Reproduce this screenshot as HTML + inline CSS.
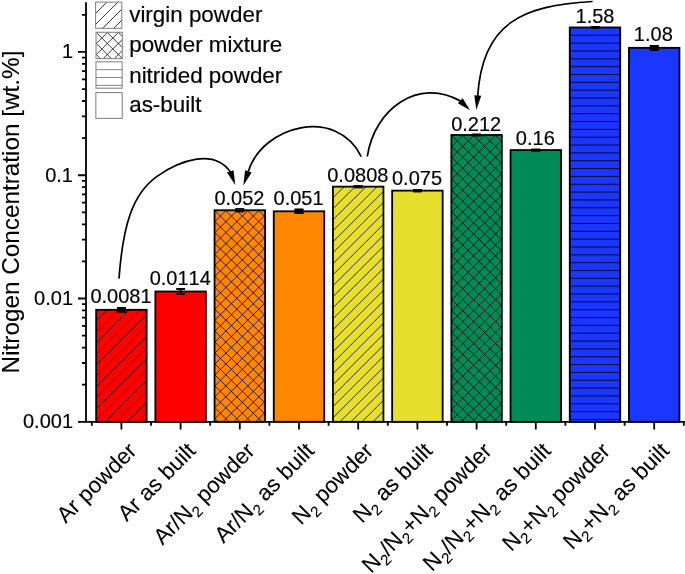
<!DOCTYPE html>
<html><head><meta charset="utf-8"><style>
html,body{margin:0;padding:0;background:#fff;}
svg{display:block;}
text{font-family:"Liberation Sans",sans-serif;font-kerning:none;}
</style></head><body>
<svg width="685" height="574" viewBox="0 0 685 574" style="will-change:transform">
<defs>
<clipPath id="pdiag0"><rect x="96.15" y="309.80" width="50.50" height="112.00"/></clipPath><clipPath id="pcross2"><rect x="214.55" y="210.25" width="50.50" height="211.55"/></clipPath><clipPath id="pdiag4"><rect x="332.95" y="186.65" width="50.50" height="235.15"/></clipPath><clipPath id="pcross6"><rect x="451.35" y="135.00" width="50.50" height="286.80"/></clipPath><clipPath id="phoriz8"><rect x="569.75" y="27.46" width="50.50" height="394.34"/></clipPath><clipPath id="Ldiag"><rect x="95.60" y="2.10" width="26.20" height="26.25"/></clipPath><clipPath id="Lcross"><rect x="96.00" y="32.30" width="26.30" height="26.30"/></clipPath><clipPath id="Lhoriz"><rect x="95.95" y="61.80" width="26.20" height="26.40"/></clipPath>

</defs>
<rect width="685" height="574" fill="#fff"/>
<rect x="96.15" y="309.80" width="50.50" height="112.00" fill="#FF0000"/>
<path clip-path="url(#pdiag0)" d="M-38.70 422.80L75.30 308.80M-27.70 422.80L86.30 308.80M-16.70 422.80L97.30 308.80M-5.70 422.80L108.30 308.80M5.30 422.80L119.30 308.80M16.30 422.80L130.30 308.80M27.30 422.80L141.30 308.80M38.30 422.80L152.30 308.80M49.30 422.80L163.30 308.80M60.30 422.80L174.30 308.80M71.30 422.80L185.30 308.80M82.30 422.80L196.30 308.80M93.30 422.80L207.30 308.80M104.30 422.80L218.30 308.80M115.30 422.80L229.30 308.80M126.30 422.80L240.30 308.80M137.30 422.80L251.30 308.80M148.30 422.80L262.30 308.80" stroke="#000" stroke-width="0.8" fill="none"/>
<rect x="96.15" y="309.80" width="50.50" height="112.00" fill="none" stroke="#000" stroke-width="1.8"/>
<rect x="117.00" y="307.10" width="8.8" height="5.40" fill="#000"/>
<path d="M117.00 308.10H125.80M117.00 311.50H125.80M121.40 308.10V311.50" stroke="#000" stroke-width="2" fill="none"/>
<text transform="translate(121.00 302.80) scale(1 1.04)" font-size="20" text-anchor="middle" fill="#000" stroke="#000" stroke-width="0.176" xml:space="preserve">0.0081</text>
<rect x="155.35" y="291.50" width="50.50" height="130.30" fill="#FF0000"/>
<rect x="155.35" y="291.50" width="50.50" height="130.30" fill="none" stroke="#000" stroke-width="1.8"/>
<path d="M176.20 289.00H185.00M176.20 294.00H185.00M180.60 289.00V294.00" stroke="#000" stroke-width="2" fill="none"/>
<text transform="translate(180.20 284.70) scale(1 1.04)" font-size="20" text-anchor="middle" fill="#000" stroke="#000" stroke-width="0.176" xml:space="preserve">0.0114</text>
<rect x="214.55" y="210.25" width="50.50" height="211.55" fill="#FF8600"/>
<path clip-path="url(#pcross2)" d="M-19.10 422.80L194.45 209.25M-8.15 422.80L205.40 209.25M2.80 422.80L216.35 209.25M13.75 422.80L227.30 209.25M24.70 422.80L238.25 209.25M35.65 422.80L249.20 209.25M46.60 422.80L260.15 209.25M57.55 422.80L271.10 209.25M68.50 422.80L282.05 209.25M79.45 422.80L293.00 209.25M90.40 422.80L303.95 209.25M101.35 422.80L314.90 209.25M112.30 422.80L325.85 209.25M123.25 422.80L336.80 209.25M134.20 422.80L347.75 209.25M145.15 422.80L358.70 209.25M156.10 422.80L369.65 209.25M167.05 422.80L380.60 209.25M178.00 422.80L391.55 209.25M188.95 422.80L402.50 209.25M199.90 422.80L413.45 209.25M210.85 422.80L424.40 209.25M221.80 422.80L435.35 209.25M232.75 422.80L446.30 209.25M243.70 422.80L457.25 209.25M254.65 422.80L468.20 209.25M265.60 422.80L479.15 209.25M213.55 143.55L266.05 196.05M213.55 154.50L266.05 207.00M213.55 165.45L266.05 217.95M213.55 176.40L266.05 228.90M213.55 187.35L266.05 239.85M213.55 198.30L266.05 250.80M213.55 209.25L266.05 261.75M213.55 220.20L266.05 272.70M213.55 231.15L266.05 283.65M213.55 242.10L266.05 294.60M213.55 253.05L266.05 305.55M213.55 264.00L266.05 316.50M213.55 274.95L266.05 327.45M213.55 285.90L266.05 338.40M213.55 296.85L266.05 349.35M213.55 307.80L266.05 360.30M213.55 318.75L266.05 371.25M213.55 329.70L266.05 382.20M213.55 340.65L266.05 393.15M213.55 351.60L266.05 404.10M213.55 362.55L266.05 415.05M213.55 373.50L266.05 426.00M213.55 384.45L266.05 436.95M213.55 395.40L266.05 447.90M213.55 406.35L266.05 458.85M213.55 417.30L266.05 469.80M213.55 428.25L266.05 480.75" stroke="#000" stroke-width="0.8" fill="none"/>
<rect x="214.55" y="210.25" width="50.50" height="211.55" fill="none" stroke="#000" stroke-width="1.8"/>
<rect x="235.40" y="208.30" width="8.8" height="3.90" fill="#000"/>
<path d="M235.40 209.30H244.20M235.40 211.20H244.20M239.80 209.30V211.20" stroke="#000" stroke-width="2" fill="none"/>
<text transform="translate(239.40 204.70) scale(1 1.04)" font-size="20" text-anchor="middle" fill="#000" stroke="#000" stroke-width="0.176" xml:space="preserve">0.052</text>
<rect x="273.75" y="211.29" width="50.50" height="210.51" fill="#FF8600"/>
<rect x="273.75" y="211.29" width="50.50" height="210.51" fill="none" stroke="#000" stroke-width="1.8"/>
<rect x="294.60" y="208.64" width="8.8" height="5.30" fill="#000"/>
<path d="M294.60 209.64H303.40M294.60 212.94H303.40M299.00 209.64V212.94" stroke="#000" stroke-width="2" fill="none"/>
<text transform="translate(298.60 204.70) scale(1 1.04)" font-size="20" text-anchor="middle" fill="#000" stroke="#000" stroke-width="0.176" xml:space="preserve">0.051</text>
<rect x="332.95" y="186.65" width="50.50" height="235.15" fill="#E7DF2D"/>
<path clip-path="url(#pdiag4)" d="M74.95 422.80L312.10 185.65M85.95 422.80L323.10 185.65M96.95 422.80L334.10 185.65M107.95 422.80L345.10 185.65M118.95 422.80L356.10 185.65M129.95 422.80L367.10 185.65M140.95 422.80L378.10 185.65M151.95 422.80L389.10 185.65M162.95 422.80L400.10 185.65M173.95 422.80L411.10 185.65M184.95 422.80L422.10 185.65M195.95 422.80L433.10 185.65M206.95 422.80L444.10 185.65M217.95 422.80L455.10 185.65M228.95 422.80L466.10 185.65M239.95 422.80L477.10 185.65M250.95 422.80L488.10 185.65M261.95 422.80L499.10 185.65M272.95 422.80L510.10 185.65M283.95 422.80L521.10 185.65M294.95 422.80L532.10 185.65M305.95 422.80L543.10 185.65M316.95 422.80L554.10 185.65M327.95 422.80L565.10 185.65M338.95 422.80L576.10 185.65M349.95 422.80L587.10 185.65M360.95 422.80L598.10 185.65M371.95 422.80L609.10 185.65M382.95 422.80L620.10 185.65" stroke="#000" stroke-width="0.8" fill="none"/>
<rect x="332.95" y="186.65" width="50.50" height="235.15" fill="none" stroke="#000" stroke-width="1.8"/>
<rect x="353.80" y="185.15" width="8.8" height="3.00" fill="#000"/>
<path d="M353.80 186.15H362.60M353.80 187.15H362.60M358.20 186.15V187.15" stroke="#000" stroke-width="2" fill="none"/>
<text transform="translate(357.80 181.80) scale(1 1.04)" font-size="20" text-anchor="middle" fill="#000" stroke="#000" stroke-width="0.176" xml:space="preserve">0.0808</text>
<rect x="392.15" y="190.64" width="50.50" height="231.16" fill="#E7DF2D"/>
<rect x="392.15" y="190.64" width="50.50" height="231.16" fill="none" stroke="#000" stroke-width="1.8"/>
<rect x="413.00" y="189.04" width="8.8" height="3.20" fill="#000"/>
<path d="M413.00 190.04H421.80M413.00 191.24H421.80M417.40 190.04V191.24" stroke="#000" stroke-width="2" fill="none"/>
<text transform="translate(417.00 184.80) scale(1 1.04)" font-size="20" text-anchor="middle" fill="#000" stroke="#000" stroke-width="0.176" xml:space="preserve">0.075</text>
<rect x="451.35" y="135.00" width="50.50" height="286.80" fill="#008A58"/>
<path clip-path="url(#pcross6)" d="M142.45 422.80L431.25 134.00M153.40 422.80L442.20 134.00M164.35 422.80L453.15 134.00M175.30 422.80L464.10 134.00M186.25 422.80L475.05 134.00M197.20 422.80L486.00 134.00M208.15 422.80L496.95 134.00M219.10 422.80L507.90 134.00M230.05 422.80L518.85 134.00M241.00 422.80L529.80 134.00M251.95 422.80L540.75 134.00M262.90 422.80L551.70 134.00M273.85 422.80L562.65 134.00M284.80 422.80L573.60 134.00M295.75 422.80L584.55 134.00M306.70 422.80L595.50 134.00M317.65 422.80L606.45 134.00M328.60 422.80L617.40 134.00M339.55 422.80L628.35 134.00M350.50 422.80L639.30 134.00M361.45 422.80L650.25 134.00M372.40 422.80L661.20 134.00M383.35 422.80L672.15 134.00M394.30 422.80L683.10 134.00M405.25 422.80L694.05 134.00M416.20 422.80L705.00 134.00M427.15 422.80L715.95 134.00M438.10 422.80L726.90 134.00M449.05 422.80L737.85 134.00M460.00 422.80L748.80 134.00M470.95 422.80L759.75 134.00M481.90 422.80L770.70 134.00M492.85 422.80L781.65 134.00M503.80 422.80L792.60 134.00M450.35 68.30L502.85 120.80M450.35 79.25L502.85 131.75M450.35 90.20L502.85 142.70M450.35 101.15L502.85 153.65M450.35 112.10L502.85 164.60M450.35 123.05L502.85 175.55M450.35 134.00L502.85 186.50M450.35 144.95L502.85 197.45M450.35 155.90L502.85 208.40M450.35 166.85L502.85 219.35M450.35 177.80L502.85 230.30M450.35 188.75L502.85 241.25M450.35 199.70L502.85 252.20M450.35 210.65L502.85 263.15M450.35 221.60L502.85 274.10M450.35 232.55L502.85 285.05M450.35 243.50L502.85 296.00M450.35 254.45L502.85 306.95M450.35 265.40L502.85 317.90M450.35 276.35L502.85 328.85M450.35 287.30L502.85 339.80M450.35 298.25L502.85 350.75M450.35 309.20L502.85 361.70M450.35 320.15L502.85 372.65M450.35 331.10L502.85 383.60M450.35 342.05L502.85 394.55M450.35 353.00L502.85 405.50M450.35 363.95L502.85 416.45M450.35 374.90L502.85 427.40M450.35 385.85L502.85 438.35M450.35 396.80L502.85 449.30M450.35 407.75L502.85 460.25M450.35 418.70L502.85 471.20M450.35 429.65L502.85 482.15" stroke="#000" stroke-width="0.8" fill="none"/>
<rect x="451.35" y="135.00" width="50.50" height="286.80" fill="none" stroke="#000" stroke-width="1.8"/>
<rect x="472.20" y="133.65" width="8.8" height="2.70" fill="#000"/>
<path d="M472.20 134.65H481.00M472.20 135.35H481.00M476.60 134.65V135.35" stroke="#000" stroke-width="2" fill="none"/>
<text transform="translate(476.20 131.10) scale(1 1.04)" font-size="20" text-anchor="middle" fill="#000" stroke="#000" stroke-width="0.176" xml:space="preserve">0.212</text>
<rect x="510.55" y="150.07" width="50.50" height="271.73" fill="#008A58"/>
<rect x="510.55" y="150.07" width="50.50" height="271.73" fill="none" stroke="#000" stroke-width="1.8"/>
<rect x="531.40" y="148.72" width="8.8" height="2.70" fill="#000"/>
<path d="M531.40 149.72H540.20M531.40 150.42H540.20M535.80 149.72V150.42" stroke="#000" stroke-width="2" fill="none"/>
<text transform="translate(535.30 145.10) scale(1 1.04)" font-size="20" text-anchor="middle" fill="#000" stroke="#000" stroke-width="0.176" xml:space="preserve">0.16</text>
<rect x="569.75" y="27.46" width="50.50" height="394.34" fill="#1A36FF"/>
<path clip-path="url(#phoriz8)" d="M569.75 35.30H620.25M569.75 43.14H620.25M569.75 50.98H620.25M569.75 58.82H620.25M569.75 66.66H620.25M569.75 74.50H620.25M569.75 82.34H620.25M569.75 90.18H620.25M569.75 98.02H620.25M569.75 105.86H620.25M569.75 113.70H620.25M569.75 121.54H620.25M569.75 129.38H620.25M569.75 137.22H620.25M569.75 145.06H620.25M569.75 152.90H620.25M569.75 160.74H620.25M569.75 168.58H620.25M569.75 176.42H620.25M569.75 184.26H620.25M569.75 192.10H620.25M569.75 199.94H620.25M569.75 207.78H620.25M569.75 215.62H620.25M569.75 223.46H620.25M569.75 231.30H620.25M569.75 239.14H620.25M569.75 246.98H620.25M569.75 254.82H620.25M569.75 262.66H620.25M569.75 270.50H620.25M569.75 278.34H620.25M569.75 286.18H620.25M569.75 294.02H620.25M569.75 301.86H620.25M569.75 309.70H620.25M569.75 317.54H620.25M569.75 325.38H620.25M569.75 333.22H620.25M569.75 341.06H620.25M569.75 348.90H620.25M569.75 356.74H620.25M569.75 364.58H620.25M569.75 372.42H620.25M569.75 380.26H620.25M569.75 388.10H620.25M569.75 395.94H620.25M569.75 403.78H620.25M569.75 411.62H620.25M569.75 419.46H620.25" stroke="#000" stroke-width="0.8" fill="none"/>
<rect x="569.75" y="27.46" width="50.50" height="394.34" fill="none" stroke="#000" stroke-width="1.8"/>
<rect x="590.60" y="26.11" width="8.8" height="2.70" fill="#000"/>
<path d="M590.60 27.11H599.40M590.60 27.81H599.40M595.00 27.11V27.81" stroke="#000" stroke-width="2" fill="none"/>
<text transform="translate(595.00 22.70) scale(1 1.04)" font-size="20" text-anchor="middle" fill="#000" stroke="#000" stroke-width="0.176" xml:space="preserve">1.58</text>
<rect x="628.95" y="47.83" width="50.50" height="373.97" fill="#1A36FF"/>
<rect x="628.95" y="47.83" width="50.50" height="373.97" fill="none" stroke="#000" stroke-width="1.8"/>
<rect x="649.80" y="44.98" width="8.8" height="5.70" fill="#000"/>
<path d="M649.80 45.98H658.60M649.80 49.68H658.60M654.20 45.98V49.68" stroke="#000" stroke-width="2" fill="none"/>
<text transform="translate(653.30 41.40) scale(1 1.04)" font-size="20" text-anchor="middle" fill="#000" stroke="#000" stroke-width="0.176" xml:space="preserve">1.08</text>
<path d="M86 2.3V422.7M85.1 421.8H690" stroke="#000" stroke-width="1.8" fill="none"/>
<path d="M78 421.80H86M82 384.69H86M82 362.98H86M82 347.58H86M82 335.63H86M82 325.87H86M82 317.61H86M82 310.46H86M82 304.16H86M78 298.52H86M82 261.40H86M82 239.70H86M82 224.29H86M82 212.35H86M82 202.58H86M82 194.33H86M82 187.18H86M82 180.87H86M78 175.23H86M82 138.12H86M82 116.41H86M82 101.01H86M82 89.06H86M82 79.30H86M82 71.05H86M82 63.90H86M82 57.59H86M78 51.95H86M82 14.84H86M121.40 421.8V429.4M180.60 421.8V429.4M239.80 421.8V429.4M299.00 421.8V429.4M358.20 421.8V429.4M417.40 421.8V429.4M476.60 421.8V429.4M535.80 421.8V429.4M595.00 421.8V429.4M654.20 421.8V429.4M91.80 421.8V425.8M151.00 421.8V425.8M210.20 421.8V425.8M269.40 421.8V425.8M328.60 421.8V425.8M387.80 421.8V425.8M447.00 421.8V425.8M506.20 421.8V425.8M565.40 421.8V425.8M624.60 421.8V425.8M683.80 421.8V425.8" stroke="#000" stroke-width="1.8" fill="none"/>
<text transform="translate(73.00 428.30) scale(1 1.04)" font-size="20" text-anchor="end" fill="#000" stroke="#000" stroke-width="0.176" xml:space="preserve">0.001</text>
<text transform="translate(73.00 305.02) scale(1 1.04)" font-size="20" text-anchor="end" fill="#000" stroke="#000" stroke-width="0.176" xml:space="preserve">0.01</text>
<text transform="translate(73.00 181.73) scale(1 1.04)" font-size="20" text-anchor="end" fill="#000" stroke="#000" stroke-width="0.176" xml:space="preserve">0.1</text>
<text transform="translate(73.00 58.45) scale(1 1.04)" font-size="20" text-anchor="end" fill="#000" stroke="#000" stroke-width="0.176" xml:space="preserve">1</text>
<text transform="translate(18.60 212.00) rotate(-90)" font-size="24.3" text-anchor="middle" fill="#000" stroke="#000" stroke-width="0.119" xml:space="preserve">Nitrogen Concentration [wt.%]</text>
<path clip-path="url(#Ldiag)" d="M46.65 29.35L74.90 1.10M57.65 29.35L85.90 1.10M68.65 29.35L96.90 1.10M79.65 29.35L107.90 1.10M90.65 29.35L118.90 1.10M101.65 29.35L129.90 1.10M112.65 29.35L140.90 1.10M123.65 29.35L151.90 1.10" stroke="#222" stroke-width="0.9" fill="none"/>
<rect x="95.6" y="2.1" width="26.20" height="26.25" fill="none" stroke="#888" stroke-width="1.1"/>
<text transform="translate(129.20 22.20) scale(1 0.985)" font-size="22.4" fill="#000" stroke="#000" stroke-width="0.197" xml:space="preserve">virgin powder</text>
<path clip-path="url(#Lcross)" d="M47.20 59.60L75.50 31.30M58.20 59.60L86.50 31.30M69.20 59.60L97.50 31.30M80.20 59.60L108.50 31.30M91.20 59.60L119.50 31.30M102.20 59.60L130.50 31.30M113.20 59.60L141.50 31.30M124.20 59.60L152.50 31.30M95.00 -12.80L123.30 15.50M95.00 -1.80L123.30 26.50M95.00 9.20L123.30 37.50M95.00 20.20L123.30 48.50M95.00 31.20L123.30 59.50M95.00 42.20L123.30 70.50M95.00 53.20L123.30 81.50M95.00 64.20L123.30 92.50" stroke="#222" stroke-width="0.9" fill="none"/>
<rect x="96.0" y="32.3" width="26.30" height="26.30" fill="none" stroke="#888" stroke-width="1.1"/>
<text transform="translate(129.20 52.30) scale(1 0.985)" font-size="22.4" fill="#000" stroke="#000" stroke-width="0.197" xml:space="preserve">powder mixture</text>
<path clip-path="url(#Lhoriz)" d="M95.95 69.65H122.15M95.95 77.50H122.15M95.95 85.35H122.15" stroke="#777" stroke-width="0.9" fill="none"/>
<rect x="95.95" y="61.8" width="26.20" height="26.40" fill="none" stroke="#888" stroke-width="1.1"/>
<text transform="translate(129.20 82.90) scale(1 0.985)" font-size="22.4" fill="#000" stroke="#000" stroke-width="0.197" xml:space="preserve">nitrided powder</text>
<rect x="95.85" y="92.6" width="26.40" height="25.80" fill="none" stroke="#888" stroke-width="1.1"/>
<text transform="translate(129.20 111.90) scale(1 0.985)" font-size="22.4" fill="#000" stroke="#000" stroke-width="0.197" xml:space="preserve">as-built</text>
<text transform="translate(137.70 452.20) rotate(-45)" font-size="22.3" text-anchor="end" fill="#000" stroke="#000" stroke-width="0.087" xml:space="preserve">Ar powder</text>
<text transform="translate(196.90 452.20) rotate(-45)" font-size="22.3" text-anchor="end" fill="#000" stroke="#000" stroke-width="0.087" xml:space="preserve">Ar as built</text>
<text transform="translate(256.10 452.20) rotate(-45)" font-size="22.3" text-anchor="end" fill="#000" stroke="#000" stroke-width="0.087" xml:space="preserve">Ar/N<tspan font-size="15.2" dy="5.6">2</tspan><tspan dy="-5.6"> powder</tspan></text>
<text transform="translate(315.30 452.20) rotate(-45)" font-size="22.3" text-anchor="end" fill="#000" stroke="#000" stroke-width="0.087" xml:space="preserve">Ar/N<tspan font-size="15.2" dy="5.6">2</tspan><tspan dy="-5.6"> as built</tspan></text>
<text transform="translate(374.50 452.20) rotate(-45)" font-size="22.3" text-anchor="end" fill="#000" stroke="#000" stroke-width="0.087" xml:space="preserve">N<tspan font-size="15.2" dy="5.6">2</tspan><tspan dy="-5.6"> powder</tspan></text>
<text transform="translate(433.70 452.20) rotate(-45)" font-size="22.3" text-anchor="end" fill="#000" stroke="#000" stroke-width="0.087" xml:space="preserve">N<tspan font-size="15.2" dy="5.6">2</tspan><tspan dy="-5.6"> as built</tspan></text>
<text transform="translate(492.90 452.20) rotate(-45)" font-size="22.3" text-anchor="end" fill="#000" stroke="#000" stroke-width="0.087" xml:space="preserve">N<tspan font-size="15.2" dy="5.6">2</tspan><tspan dy="-5.6">/N</tspan><tspan font-size="15.2" dy="5.6">2</tspan><tspan dy="-5.6">+N</tspan><tspan font-size="15.2" dy="5.6">2</tspan><tspan dy="-5.6"> powder</tspan></text>
<text transform="translate(552.10 452.20) rotate(-45)" font-size="22.3" text-anchor="end" fill="#000" stroke="#000" stroke-width="0.087" xml:space="preserve">N<tspan font-size="15.2" dy="5.6">2</tspan><tspan dy="-5.6">/N</tspan><tspan font-size="15.2" dy="5.6">2</tspan><tspan dy="-5.6">+N</tspan><tspan font-size="15.2" dy="5.6">2</tspan><tspan dy="-5.6"> as built</tspan></text>
<text transform="translate(611.30 452.20) rotate(-45)" font-size="22.3" text-anchor="end" fill="#000" stroke="#000" stroke-width="0.087" xml:space="preserve">N<tspan font-size="15.2" dy="5.6">2</tspan><tspan dy="-5.6">+N</tspan><tspan font-size="15.2" dy="5.6">2</tspan><tspan dy="-5.6"> powder</tspan></text>
<text transform="translate(670.50 452.20) rotate(-45)" font-size="22.3" text-anchor="end" fill="#000" stroke="#000" stroke-width="0.087" xml:space="preserve">N<tspan font-size="15.2" dy="5.6">2</tspan><tspan dy="-5.6">+N</tspan><tspan font-size="15.2" dy="5.6">2</tspan><tspan dy="-5.6"> as built</tspan></text>
<g stroke="#000" stroke-width="1.7" fill="none">
<path d="M119.0 278.6 C122.9 225.1 132.5 193.9 157.0 176.4 C178.6 161.0 213.3 147.8 230.5 172.1"/>
<path d="M361.2 156.6 C337.1 106.4 262.1 124.9 248.1 172.2"/>
<path d="M367.3 156.5 C374.3 109.1 418.1 76.8 460.8 101.3"/>
<path d="M592.6 1.5 C522.3 5.2 482.1 23.1 477.7 96.3"/>
</g><g fill="#000">
<path d="M235.28 184.95L226.94 172.57L233.50 170.13Z"/>
<path d="M243.33 185.55L245.07 170.27L251.67 172.62Z"/>
<path d="M469.98 110.16L457.79 103.26L462.65 98.23Z"/>
<path d="M476.32 110.00L474.30 95.15L481.26 95.85Z"/>
</g>
</svg></body></html>
